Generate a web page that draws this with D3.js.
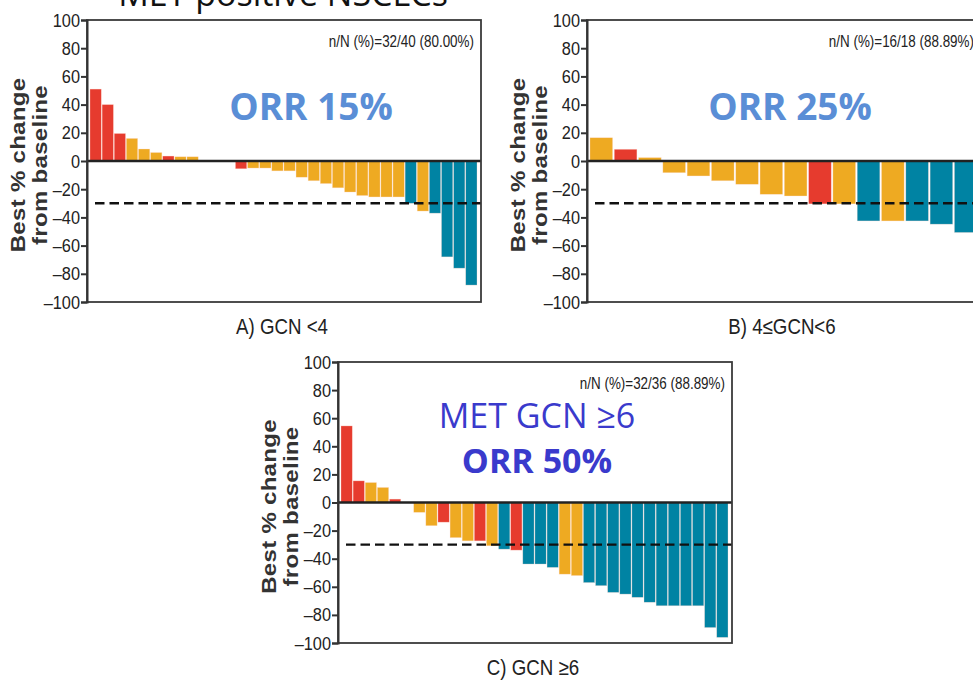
<!DOCTYPE html>
<html>
<head>
<meta charset="utf-8">
<script src="https://cdn.jsdelivr.net/npm/d3@7"></script>
<style>
  body { margin: 0; background: #fff; }
  svg { display: block; }
</style>
</head>
<body>
<script>
// best % change from baseline, one bar per patient
var valuesA = [51, 40, 19.5, 16, 8.5, 6, 3.5, 3, 3, 0, 0, 0, -5.5, -5, -5, -7, -7, -11.5, -14, -16, -19, -22, -24.5, -25.5, -25.5, -25.5, -30, -35.5, -37, -68, -76, -88];
var respA = ["PD","PD","PD","SD","SD","SD","PD","SD","SD","SD","SD","SD","PD","SD","SD","SD","SD","SD","SD","SD","SD","SD","SD","SD","SD","SD","PR","SD","PR","PR","PR","PR"];

var valuesB = [16.5, 8.3, 2.4, -8.3, -10.6, -14, -16.5, -23.6, -24.8, -30.4, -30.4, -42.5, -42.5, -42.5, -44.8, -50.7];
var respB = ["SD","PD","SD","SD","SD","SD","SD","SD","SD","PD","SD","PR","SD","PR","PR","PR"];

var valuesC = [54.5, 15.4, 14.2, 10.7, 2.4, 0, -7, -16.5, -14, -25, -27.3, -27.3, -30.8, -33.2, -33.9, -43.8, -43.8, -46.2, -51, -52, -57, -59.2, -64, -65.2, -67.5, -71, -73.5, -73.5, -73.5, -73.5, -89, -96];
var respC = ["PD","PD","SD","SD","PD","SD","SD","SD","PD","SD","SD","PD","SD","PR","PD","PR","PR","PR","SD","SD","PR","PR","PR","PR","PR","PR","PR","PR","PR","PR","PR","PR"];

var yTicks = [100, 80, 60, 40, 20, 0, -20, -40, -60, -80, -100];
var threshold = -30;

var colors = { PD: "#e63b2e", SD: "#eeaa22", PR: "#0083a3" };

var narrow = "'Liberation Sans Narrow', 'Liberation Sans', Arial, sans-serif";

var width = 973, height = 680;
var svg = d3.select("body").append("svg")
    .attr("width", width)
    .attr("height", height);

// title cut off at the top of the slide
svg.append("text")
    .attr("x", 283).attr("y", 6)
    .attr("text-anchor", "middle")
    .style("font-family", "'Open Sans', sans-serif")
    .style("font-size", "34px")
    .attr("fill", "#111")
    .text("MET positive  NSCLCs");

// condensed text: squeeze horizontally around the anchor point
function narrowText(g, x, y, sx, size, anchor, str)
{
    return g.append("text")
      .attr("transform", "translate(" + x + "," + y + ") scale(" + sx + ",1)")
      .attr("text-anchor", anchor)
      .style("font-family", narrow)
      .style("font-size", size + "px")
      .attr("fill", "#222")
      .text(str);
}

function drawPanel(cfg)
{
    var g = svg.append("g");
    var left = cfg.left, top = cfg.top, w = 394, h = cfg.h;

    var y = d3.scaleLinear().domain([-100, 100]).range([top + h, top]);
    var x = d3.scaleBand()
        .domain(d3.range(cfg.values.length))
        .range([left + 3, left + w - 4])
        .paddingInner(0.07);

    // bars
    g.selectAll("rect.bar")
      .data(cfg.values)
      .enter()
      .append("rect")
      .attr("class", "bar")
      .attr("x", function (d, i) { return x(i); })
      .attr("width", x.bandwidth())
      .attr("y", function (d) { return y(Math.max(0, d)); })
      .attr("height", function (d) { return Math.abs(y(d) - y(0)); })
      .attr("fill", function (d, i) { return colors[cfg.resp[i]]; })
      .attr("stroke", "#ffd9cf")
      .attr("stroke-opacity", 0.5)
      .attr("stroke-width", 0.6);

    // dashed -30% line
    g.append("line")
      .attr("x1", left + 8).attr("x2", left + w)
      .attr("y1", y(threshold)).attr("y2", y(threshold))
      .attr("stroke", "#111")
      .attr("stroke-width", 2.4)
      .attr("stroke-dasharray", "9.5,5");

    // zero line
    g.append("line")
      .attr("x1", left).attr("x2", left + w)
      .attr("y1", y(0)).attr("y2", y(0))
      .attr("stroke", "#222")
      .attr("stroke-width", 2.6);

    // frame
    g.append("rect")
      .attr("x", left).attr("y", top)
      .attr("width", w).attr("height", h)
      .attr("fill", "none")
      .attr("stroke", "#3a3a3a")
      .attr("stroke-width", 1.8);

    var axis = d3.axisLeft(y)
        .tickValues(yTicks)
        .tickSize(6)
        .tickPadding(1)
        .tickFormat(function (d) { return d < 0 ? "\u2013" + Math.abs(d) : d; });

    var ax = g.append("g")
        .attr("transform", "translate(" + left + ",0)")
        .call(axis);
    ax.select(".domain").attr("stroke", "#333").attr("stroke-width", 2);
    ax.selectAll(".tick line").attr("stroke", "#333").attr("stroke-width", 2);
    ax.selectAll(".tick text")
      .attr("fill", "#222")
      .attr("x", -7)
      .attr("transform", "scale(0.86,1)")
      .style("font-family", narrow)
      .style("font-size", "19px");
    // keep the right end of the squeezed labels next to the tick
    ax.selectAll(".tick text").attr("x", -7 / 0.86);

    // y title, two lines
    var cy = top + h / 2 + 4;
    [["Best % change", left - 62], ["from baseline", left - 40]].forEach(function (t)
    {
        g.append("text")
          .attr("transform", "translate(" + t[1] + "," + cy + ") rotate(-90) scale(1,0.85)")
          .attr("text-anchor", "middle")
          .style("font-family", "'Liberation Sans', Arial, sans-serif")
          .style("font-weight", "bold")
          .style("font-size", "24px")
          .style("letter-spacing", "0.3px")
          .attr("fill", "#333")
          .text(t[0]);
    });

    // n/N note
    narrowText(g, left + w - 7, top + 27, 0.84, 16, "end", cfg.note);

    // panel label
    narrowText(g, left + w / 2 - 2, top + h + 32, 0.85, 22, "middle", cfg.label);

    // overlaid annotations
    cfg.notes.forEach(function (n)
    {
        g.append("text")
          .attr("x", left + n.dx).attr("y", top + n.dy)
          .attr("text-anchor", "middle")
          .style("font-family", "'Open Sans', sans-serif")
          .style("font-weight", n.bold ? "bold" : "normal")
          .style("font-size", n.size + "px")
          .attr("fill", n.color)
          .text(n.text);
    });
}

drawPanel({
    left: 87, top: 20, h: 282,
    values: valuesA, resp: respA,
    note: "n/N (%)=32/40 (80.00%)",
    label: "A) GCN <4",
    notes: [{ text: "ORR 15%", dx: 224, dy: 100, size: 37, bold: true, color: "#5a8ed6" }]
});

drawPanel({
    left: 587, top: 20, h: 282,
    values: valuesB, resp: respB,
    note: "n/N (%)=16/18 (88.89%)",
    label: "B) 4\u2264GCN<6",
    notes: [{ text: "ORR 25%", dx: 203, dy: 100, size: 37, bold: true, color: "#5a8ed6" }]
});

drawPanel({
    left: 338, top: 362, h: 281,
    values: valuesC, resp: respC,
    note: "n/N (%)=32/36 (88.89%)",
    label: "C) GCN \u22656",
    notes: [
        { text: "MET GCN \u22656", dx: 199, dy: 66, size: 34, bold: false, color: "#3a3acc" },
        { text: "ORR 50%", dx: 199, dy: 111, size: 34, bold: true, color: "#3a3acc" }
    ]
});
</script>
</body>
</html>
